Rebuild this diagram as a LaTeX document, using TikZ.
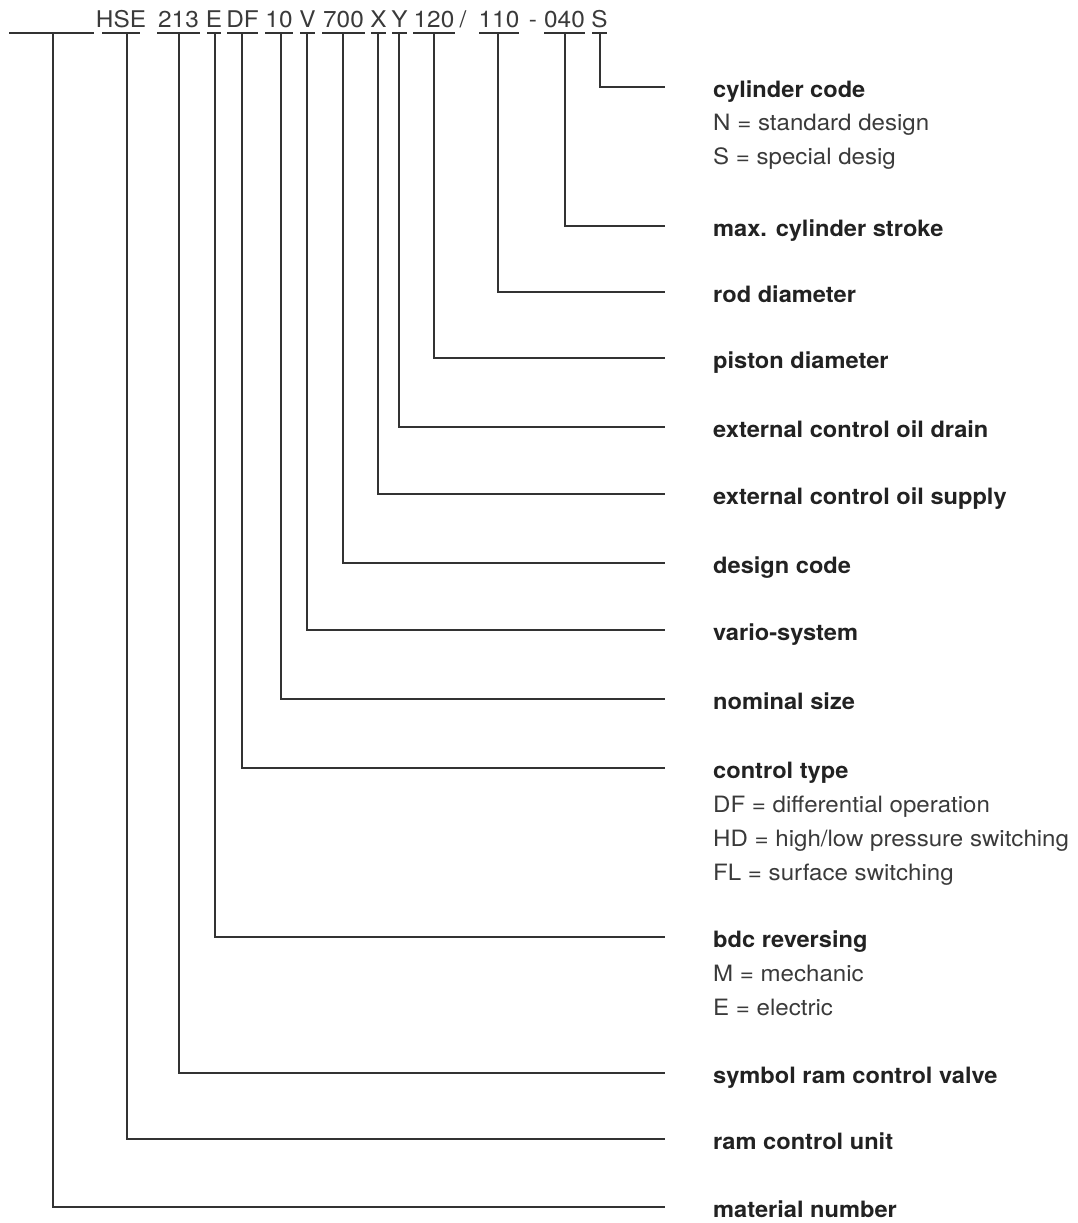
\documentclass[tikz,border=0pt]{standalone}
\usepackage{fontspec}
\setmainfont{TeX Gyre Heros}
\newfontfamily\hdfont[FakeStretch=1.05]{TeX Gyre Heros}
\newfontfamily\sbfont[FakeStretch=1.07]{TeX Gyre Heros}
\newfontfamily\cdfont[FakeStretch=1.06]{TeX Gyre Heros}
\definecolor{ln}{HTML}{333333}
\definecolor{txt}{HTML}{222222}
\definecolor{txtl}{HTML}{3a3a3a}
\begin{document}
\begin{tikzpicture}[x=1pt,y=-1pt,
  code/.style={font=\cdfont\fontsize{23}{23}\selectfont, text=txtl, inner sep=0pt, anchor=base},
  head/.style={font=\hdfont\fontsize{22.5}{22.5}\selectfont\bfseries, text=txt, inner sep=0pt, anchor=base west},
  sub/.style={font=\sbfont\fontsize{22.5}{22.5}\selectfont, text=txtl, inner sep=0pt, anchor=base west},
  uline/.style={draw=ln, line width=1.4pt},
  conn/.style={draw=ln, line width=1.4pt}]
\useasboundingbox (0,0) rectangle (1078,1223);

% blank position (material number)
\draw[uline] (9,33) -- (94,33);
\coordinate (smat) at (53,33);
\coordinate (emat) at (665,1207);
\node[head] (lmat) at (713,1217) {material number};
\draw[conn] (smat) |- (emat);

\foreach \n/\t/\a/\b/\s/\y/\l in {
  hse/HSE/102/140/127/1139/ram control unit,
  sym/213/157/200/179/1073/symbol ram control valve,
  bdc/E/207/221/215/937/bdc reversing,
  ctl/DF/227/258/242/768/control type,
  nom/10/265/293/281/699/nominal size,
  var/V/300/315/307/630/vario-system,
  des/700/322/365/343/563/design code,
  sup/X/371/386/378/494/external control oil supply,
  drn/Y/392/407/399/427/external control oil drain,
  pis/120/413/455/434/358/piston diameter,
  rod/110/479/519/498/292/rod diameter,
  str/040/544/585/565/226/max. cylinder stroke,
  cyl/S/592/607/600/87/cylinder code}{
  \node[code] (c\n) at ({(\a+\b)/2},28) {\t};
  \draw[uline] (\a,33) -- (\b,33);
  \coordinate (s\n) at (\s,33);
  \coordinate (e\n) at (665,\y);
  \node[head] (l\n) at (713,\y+10) {\l};
  \draw[conn] (s\n) |- (e\n);
}

\node[code] (slash) at (463,28) {/};
\node[code] (hyph) at (533,28) {-};

% sub lines
\node[sub] (cylN) at (713,130.5) {N = standard design};
\node[sub] (cylS) at (713,164) {S = special desig};
\node[sub] (ctlDF) at (713,812) {DF = differential operation};
\node[sub] (ctlHD) at (713,846) {HD = high/low pressure switching};
\node[sub] (ctlFL) at (713,880) {FL = surface switching};
\node[sub] (bdcM) at (713,981) {M = mechanic};
\node[sub] (bdcE) at (713,1015) {E = electric};
\end{tikzpicture}
\end{document}
